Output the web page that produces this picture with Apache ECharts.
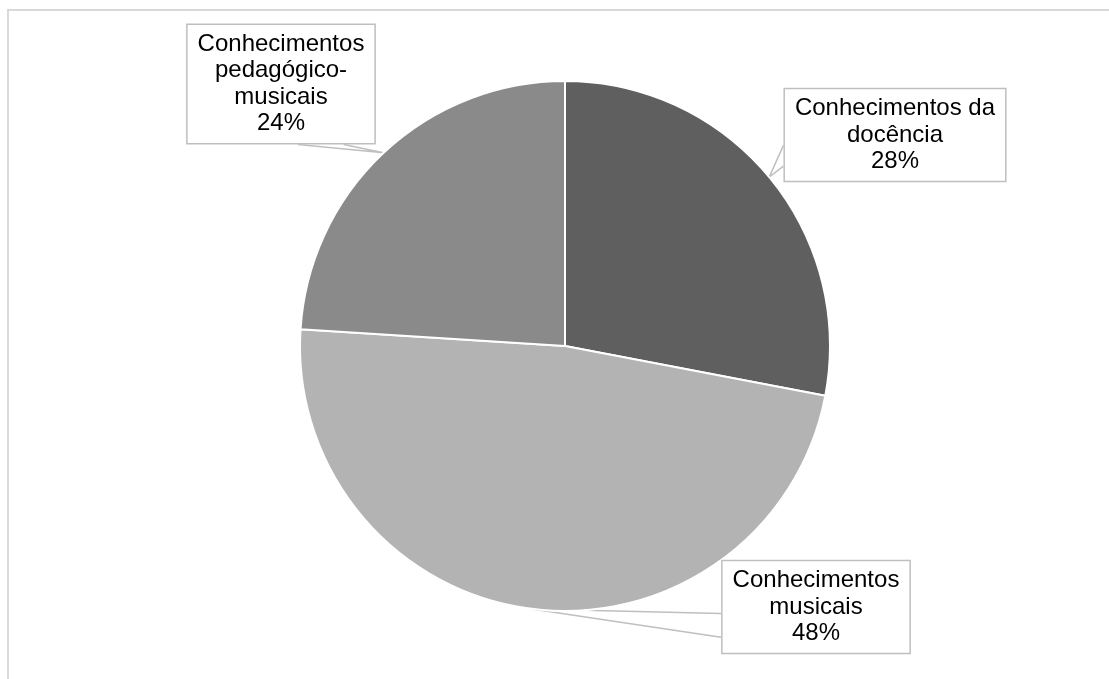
<!DOCTYPE html>
<html lang="pt">
<head>
    <meta charset="UTF-8">
    <title>pie</title>
    <script src="https://cdn.jsdelivr.net/npm/echarts@6/dist/echarts.min.js"></script>
    <style>
        html, body { margin: 0; padding: 0; background: #fff; }
        #chart { width: 1109px; height: 679px; }
    </style>
</head>
<body>
<div id="chart"></div>
<script>
    // dados
    var categorias = ['Conhecimentos da docência', 'Conhecimentos musicais', 'Conhecimentos pedagógico-musicais'];
    var rotulos = ['Conhecimentos da\ndocência', 'Conhecimentos\nmusicais', 'Conhecimentos\npedagógico-\nmusicais'];
    var valores = [28, 48, 24];
    var cores = ['#5f5f5f', '#b3b3b3', '#8a8a8a'];

    // posição (centro) de cada caixa e lado/frações onde a "ponta" do balão sai
    var posRotulo = [[895, 135], [816, 607], [281, 84]];
    var ponta = [['left', 0.61, 0.83], ['left', 0.57, 0.82], ['bottom', 0.59, 0.83]];

    var dados = categorias.map(function (nome, i) {
        return { name: nome, value: valores[i], itemStyle: { color: cores[i] } };
    });

    var myChart = echarts.init(document.getElementById('chart'));
    myChart.setOption({
        animation: false,
        backgroundColor: '#fff',
        graphic: [{
            type: 'rect',
            shape: { x: 8, y: 10, width: 1200, height: 800 },
            style: { fill: 'none', stroke: '#d9d9d9', lineWidth: 2 },
            silent: true
        }],
        series: [{
            type: 'pie',
            center: [565, 346],
            radius: 265,
            startAngle: 90,
            clockwise: true,
            data: dados,
            itemStyle: { borderColor: '#fff', borderWidth: 2 },
            label: {
                show: true,
                formatter: function (p) {
                    return rotulos[p.dataIndex] + '\n' + p.value + '%';
                },
                fontFamily: 'Liberation Sans, Arial, sans-serif',
                fontSize: 24,
                lineHeight: 26.5,
                color: '#000',
                align: 'center',
                backgroundColor: '#fff',
                borderColor: '#bfbfbf',
                borderWidth: 1.5,
                padding: [6, 10]
            },
            labelLine: {
                show: true,
                length: 10,
                length2: 10,
                lineStyle: { color: '#bfbfbf', width: 1.5 }
            },
            labelLayout: function (params) {
                var i = params.dataIndex;
                var p = posRotulo[i];
                var w = params.labelRect.width, h = params.labelRect.height;
                var x0 = p[0] - w / 2, y0 = p[1] - h / 2;
                var apice = params.labelLinePoints ? params.labelLinePoints[0] : p;
                var a, b, pt = ponta[i];
                if (pt[0] === 'left') {
                    a = [x0, y0 + h * pt[1]];
                    b = [x0, y0 + h * pt[2]];
                } else {
                    a = [x0 + w * pt[1], y0 + h];
                    b = [x0 + w * pt[2], y0 + h];
                }
                return {
                    x: p[0], y: p[1], align: 'center', verticalAlign: 'middle',
                    labelLinePoints: [a, apice, b]
                };
            }
        }]
    });
</script>
</body>
</html>
